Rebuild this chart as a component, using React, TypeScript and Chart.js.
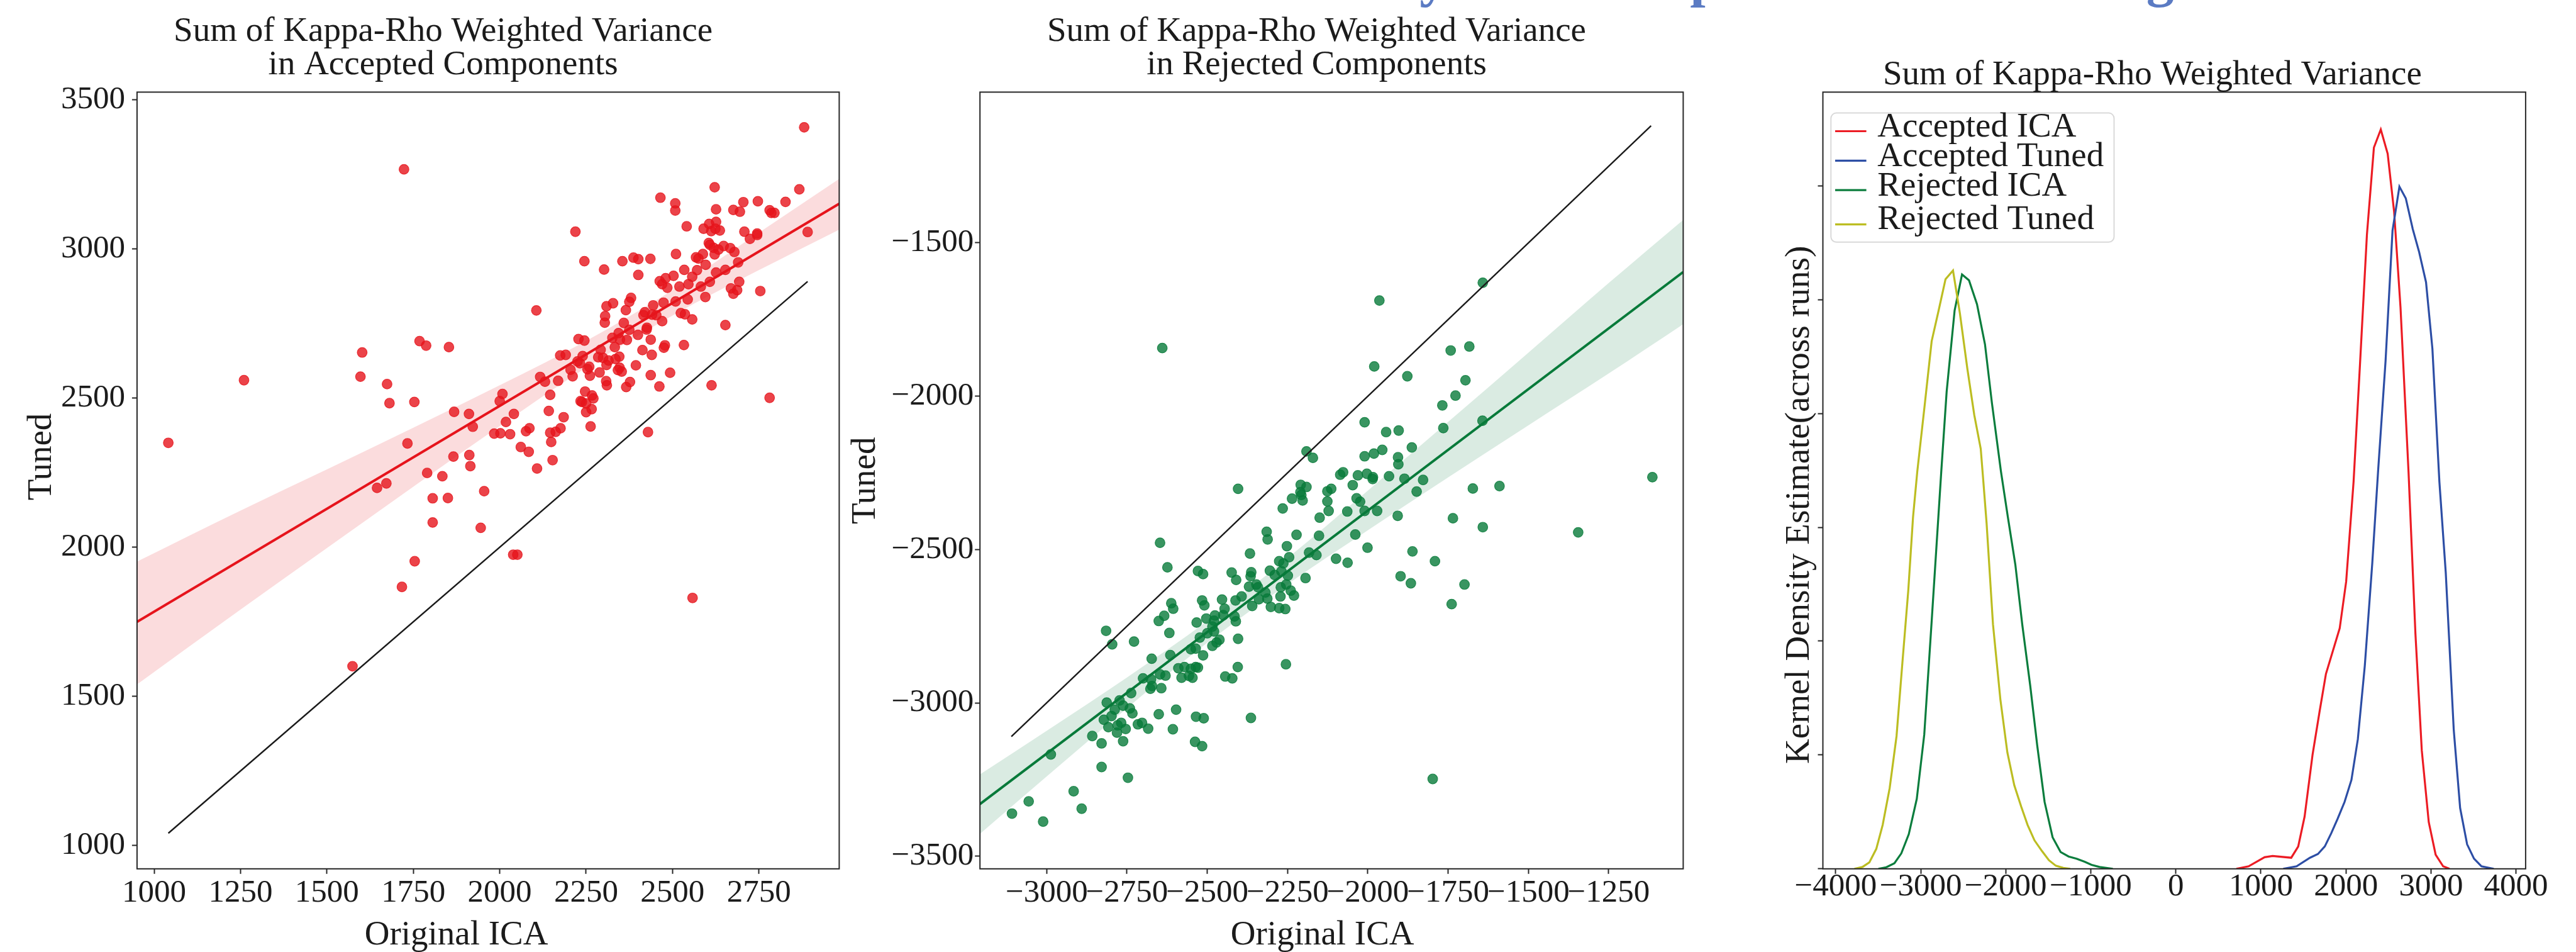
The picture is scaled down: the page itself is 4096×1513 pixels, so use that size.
import React, { useEffect, useRef } from 'react';
import { Chart, registerables } from 'chart.js';

Chart.register(...registerables);

const PAGE_W = 4096;
const PAGE_H = 1513;
const FONT = "'Liberation Serif', 'Times New Roman', serif";
const INK = '#1b1b1b';
const SPINE = '#262626';
const AREA_TOP = 146.4;
const AREA_BOTTOM = 1380.8;
const TICK_FONT = 51;
const TEXT_FONT = 55;

const TITLE_LINE_1 = 'Sum of Kappa-Rho Weighted Variance';
const SUPTITLE = 'Variance Shifts by ICA Component After Tuning';

// ---------- Accepted components: original ICA (x) vs tuned (y) ----------
const acceptedOriginal = [
  1041, 1260, 1602, 1597, 1768, 1787, 1853, 1674, 1681, 1753,
  1733, 1868, 1911, 1922, 1645, 1672, 1790, 1834, 1866, 1912,
  1915, 1806, 1850, 1806, 1945, 1754, 1717, 2039, 2051, 1574,
  1723, 2558, 2881,
  2622, 2867, 2465, 2508, 2508, 2705, 2747, 2827, 2626, 2676,
  2695, 2781, 2786, 2795, 2541, 2590, 2606, 2626, 2612, 2624,
  2637, 2708, 2745, 2745, 2724, 2891, 2219, 2605, 2608, 2619,
  2648, 2633, 2667, 2679, 2622, 2588, 2510, 2568, 2575, 2596,
  2690, 2245, 2355, 2387, 2401, 2436, 2302, 2401, 2534, 2571,
  2626, 2653, 2480, 2503, 2463, 2470, 2485, 2520, 2546, 2557,
  2582, 2608, 2693, 2669, 2687, 2676, 2754, 2595, 2544, 2509,
  2474, 2380, 2375, 2328, 2309, 2365, 2444, 2420, 2416, 2441,
  2453, 2524, 2536, 2557, 2470, 2653, 2106, 2305, 2304, 2359,
  2426, 2425, 2375, 2344, 2326, 2348, 2368, 2400, 2437, 2228,
  2245, 2333, 2478, 2475, 2533, 2413, 2440, 2175, 2191, 2240,
  2292, 2285, 2299, 2346, 2335, 2315, 2225, 2232, 2309, 2259,
  2254, 2205, 2347, 2342, 2353, 2394, 2289, 2261, 2211, 2493,
  2437, 2117, 2131, 2169, 2308, 2310, 2377, 2366, 2462, 2613,
  2008, 2000, 2146, 2247, 2267, 2271, 2234, 2238, 2250, 2266,
  2250, 2781, 2041, 2018, 2142, 2185, 2263, 1984, 2002, 2030,
  2076, 2086, 2146, 2162, 2176, 2149, 2061, 2084, 2153, 2108,
  2429, 1955,
];
const acceptedTuned = [
  2350, 2560, 2653, 2572, 2691, 2676, 2671, 2547, 2483, 2487,
  2348, 2454, 2447, 2404, 2199, 2214, 2249, 2238, 2304, 2309,
  2272, 2164, 2165, 2083, 2065, 1953, 1867, 1975, 1975, 1601,
  3267, 1830, 3408,
  3207, 3200, 3172, 3153, 3129, 3157, 3160, 3158, 3133, 3131,
  3125, 3130, 3121, 3121, 3076, 3068, 3084, 3091, 3060, 3068,
  3062, 3058, 3052, 3047, 3034, 3057, 3058, 3020, 3014, 3004,
  3010, 2998, 3003, 2990, 2982, 2983, 2983, 2972, 2968, 2947,
  2955, 2959, 2959, 2971, 2966, 2967, 2931, 2913, 2930, 2929,
  2921, 2930, 2902, 2910, 2892, 2882, 2870, 2874, 2882, 2907,
  2874, 2890, 2890, 2868, 2862, 2850, 2859, 2839, 2831, 2824,
  2820, 2836, 2823, 2818, 2808, 2795, 2811, 2788, 2778, 2780,
  2778, 2785, 2781, 2764, 2758, 2745, 2794, 2775, 2753, 2752,
  2736, 2730, 2729, 2718, 2702, 2696, 2695, 2712, 2696, 2698,
  2693, 2671, 2677, 2669, 2678, 2661, 2645, 2643, 2645, 2641,
  2662, 2637, 2635, 2639, 2631, 2626, 2623, 2617, 2611, 2605,
  2597, 2595, 2602, 2594, 2589, 2610, 2586, 2575, 2573, 2585,
  2577, 2571, 2555, 2558, 2557, 2543, 2554, 2537, 2539, 2543,
  2514, 2490, 2511, 2522, 2509, 2499, 2490, 2487, 2482, 2463,
  2453, 2501, 2447, 2420, 2457, 2436, 2405, 2381, 2382, 2379,
  2389, 2399, 2384, 2387, 2399, 2353, 2336, 2320, 2292, 2264,
  2386, 2188,
];
const acceptedXRange = [950.5, 2982.4];
const acceptedYRange = [921.7, 3526];
const acceptedXTicks = [1000, 1250, 1500, 1750, 2000, 2250, 2500, 2750];
const acceptedYTicks = [1000, 1500, 2000, 2500, 3000, 3500];
const acceptedIdentity = [1041, 2891];
const acceptedFitX = [950.5, 2982.4];
const acceptedFitY = [1750, 3152];
const acceptedBandX = [950.5, 1250, 1500, 1750, 2000, 2250, 2500, 2750, 2982.4];
const acceptedBandHigh = [1952, 2123, 2261, 2401, 2543, 2692, 2862, 3055, 3235];
const acceptedBandLow = [1540, 1791, 1997, 2203, 2406, 2602, 2777, 2929, 3065];

// ---------- Rejected components: original ICA (x) vs tuned (y) ----------
const rejectedOriginal = [
  -1877, -1696, -1727, -1768, -2010, -1643, -1765, -1943, -1904, -1863,
  -2191, -2171, -2010, -1981, -1955, -1906, -1905, -2086, -2077, -2031,
  -2003, -1984, -1985, -1934, -1886, -1828, -2404, -2209, -2191, -2210,
  -2207, -2203, -2236, -2265, -2126, -2114, -2047, -1848, -1673, -2126,
  -2122, -2035, -2024, -2064, -2010, -1971, -2150, -1907, -1735, -1642,
  -2315, -2312, -2222, -2152, -2039, -2001, -2252, -2647, -2367, -1861,
  -1791, -2624, -2276, -2245, -2263, -2183, -2160, -2099, -2063, -2529,
  -2513, -2424, -2410, -2363, -2365, -2305, -2290, -2269, -2249, -2194,
  -1898, -1866, -1699, -2370, -2347, -2342, -2271, -2254, -2240, -2230,
  -2272, -2319, -2313, -2339, -2393, -2412, -2454, -2516, -2509, -2360,
  -2302, -2276, -2257, -2612, -2606, -1739, -2446, -2450, -2476, -2503,
  -2479, -2415, -2411, -2634, -2651, -2533, -2484, -2479, -2815, -2618,
  -2523, -2500, -2404, -2462, -2471, -2484, -2796, -2728, -2536, -2551,
  -2513, -2615, -2673, -2647, -2630, -2590, -2571, -2551, -2536, -2529,
  -2580, -2557, -2546, -2405, -2255, -2444, -2422, -2700, -2675, -2672,
  -2677, -2643, -2737, -2813, -2773, -2762, -2788, -2741, -2733, -2798,
  -2822, -2768, -2779, -2808, -2754, -2781, -2716, -2703, -2684, -2651,
  -2597, -2607, -2535, -2511, -2364, -2858, -2829, -2762, -2538, -2516,
  -2829, -2747, -2916, -1798, -1642, -1964, -2640, -1742, -1684, -1980,
  -1590, -1345, -1114, -3108, -3056, -3011, -2891, -2987,
];
const rejectedTuned = [
  -1935, -1948, -1998, -2030, -2085, -2080, -2104, -2117, -2112, -2167,
  -2180, -2201, -2196, -2187, -2175, -2199, -2222, -2256, -2248, -2258,
  -2253, -2264, -2270, -2261, -2269, -2273, -2302, -2289, -2296, -2313,
  -2322, -2340, -2334, -2366, -2310, -2302, -2290, -2311, -2301, -2343,
  -2374, -2333, -2344, -2376, -2374, -2374, -2396, -2390, -2398, -2427,
  -2442, -2467, -2452, -2455, -2451, -2494, -2489, -2478, -2513, -2506,
  -2538, -2558, -2538, -2525, -2545, -2510, -2518, -2530, -2543, -2570,
  -2580, -2575, -2599, -2574, -2587, -2569, -2583, -2571, -2585, -2593,
  -2587, -2610, -2614, -2621, -2614, -2623, -2623, -2614, -2634, -2650,
  -2653, -2640, -2660, -2662, -2653, -2666, -2663, -2666, -2682, -2684,
  -2687, -2691, -2694, -2675, -2693, -2678, -2693, -2714, -2715, -2725,
  -2732, -2718, -2734, -2716, -2733, -2738, -2751, -2767, -2765, -2772,
  -2787, -2773, -2791, -2794, -2803, -2814, -2809, -2800, -2823, -2825,
  -2845, -2844, -2856, -2907, -2911, -2887, -2883, -2889, -2883, -2885,
  -2918, -2912, -2918, -2883, -2874, -2914, -2920, -2920, -2923, -2945,
  -2954, -2952, -2968, -2999, -2992, -3009, -3022, -3018, -3034, -3043,
  -3055, -3065, -3073, -3079, -3085, -3097, -3070, -3065, -3084, -3037,
  -3022, -3086, -3045, -3050, -3049, -3108, -3132, -3125, -3127, -3141,
  -3209, -3244, -3288, -3248, -1630, -1688, -1843, -1851, -1838, -1903,
  -2293, -2444, -2264, -3361, -3321, -3387, -3345, -3168,
];
const rejectedXRange = [-3207.7, -1018];
const rejectedYRange = [-3541, -1008.5];
const rejectedXTicks = [-3000, -2750, -2500, -2250, -2000, -1750, -1500, -1250];
const rejectedYTicks = [-3500, -3000, -2500, -2000, -1500];
const rejectedIdentity = [-3110, -1118];
const rejectedFitX = [-3207.7, -1018];
const rejectedFitY = [-3330, -1595];
const rejectedBandX = [-3207.7, -3000, -2750, -2500, -2250, -2000, -1750, -1500, -1250, -1018];
const rejectedBandHigh = [-3233, -3091, -2917, -2733, -2528, -2308, -2084, -1858, -1631, -1425];
const rejectedBandLow = [-3427, -3240, -3017, -2804, -2613, -2437, -2265, -2095, -1926, -1765];

// ---------- Kernel density estimates across runs ----------
const kdeLabels = ['Accepted ICA', 'Accepted Tuned', 'Rejected ICA', 'Rejected Tuned'];
const kdeColors = ['#ec1c24', '#2d4ea5', '#0b7d3d', '#bcbd22'];
const kdeAcceptedIcaX = [
  712, 856, 1044, 1138, 1357, 1439, 1514, 1608, 1690, 1765, 1927, 2003, 2090, 2166,
  2247, 2329, 2410, 2491, 2567, 2642, 2736, 2817, 2892, 2974, 3055, 3143, 3218,
];
const kdeAcceptedIcaY = [
  0, 0.0000055, 0.0000255, 0.0000283, 0.0000243, 0.000049, 0.0001145, 0.000251, 0.0003453,
  0.000428, 0.0005283, 0.000631, 0.00085, 0.00111, 0.001393, 0.001584, 0.0016238, 0.0015705,
  0.0014425, 0.0012325, 0.0008725, 0.0005175, 0.00026, 0.0001025, 0.000031, 0.0000055, 0,
];
const kdeAcceptedTunedX = [
  1263, 1420, 1577, 1671, 1752, 1827, 1902, 1984, 2065, 2140, 2222, 2310, 2378, 2466, 2548,
  2629, 2704, 2786, 2861, 2942, 3017, 3099, 3174, 3268, 3343, 3425, 3506, 3594, 3738,
];
const kdeAcceptedTunedY = [
  0, 0.0000055, 0.0000243, 0.0000325, 0.0000493, 0.000078, 0.0001098, 0.0001468, 0.0001953,
  0.0002845, 0.000446, 0.0006715, 0.0008725, 0.001115, 0.0014018, 0.0014983, 0.0014725,
  0.001405, 0.0013545, 0.0012883, 0.001142, 0.00085, 0.00065, 0.0003048, 0.0001333,
  0.0000538, 0.0000223, 0.0000055, 0,
];
const kdeRejectedIcaX = [
  -3497, -3403, -3309, -3228, -3140, -3046, -2958, -2871, -2758, -2695, -2601, -2514, -2432,
  -2338, -2244, -2163, -2056, -1975, -1887, -1806, -1712, -1630, -1543, -1449, -1355, -1261,
  -1167, -1073, -991, -897, -741,
];
const kdeRejectedIcaY = [
  0, 0.0000035, 0.0000123, 0.0000338, 0.000076, 0.0001535, 0.0002948, 0.0005438, 0.0008725,
  0.0010475, 0.0012263, 0.0013053, 0.0012925, 0.00124, 0.001152, 0.0010238, 0.0008725,
  0.0007725, 0.000668, 0.000537, 0.0004023, 0.0002713, 0.0001468, 0.0000693, 0.000037,
  0.000027, 0.0000223, 0.0000155, 0.0000088, 0.000004, 0,
];
const kdeRejectedTunedX = [
  -3779, -3685, -3604, -3522, -3447, -3365, -3284, -3215, -3146, -3090, -3040, -2952, -2871,
  -2789, -2708, -2620, -2539, -2451, -2370, -2294, -2263, -2225, -2150, -2063, -1981, -1900,
  -1818, -1743, -1662, -1574, -1492, -1411, -1323, -1242,
];
const kdeRejectedTunedY = [
  0, 0.000004, 0.000014, 0.0000438, 0.0000963, 0.000177, 0.0002913, 0.0004528, 0.000611,
  0.0007725, 0.0008725, 0.00102, 0.0011588, 0.0012263, 0.001295, 0.001314, 0.00122, 0.001098,
  0.0009968, 0.0009225, 0.00085, 0.0007588, 0.000537, 0.000372, 0.0002558, 0.0001838,
  0.0001365, 0.0000963, 0.0000625, 0.000039, 0.0000188, 0.0000068, 0.000002, 0,
];
const kdeXRange = [-4150, 4113];
const kdeYRange = [0, 0.0017058];
const kdeXTicks = [-4000, -3000, -2000, -1000, 0, 1000, 2000, 3000, 4000];
const kdeYTicks = [0, 0.00025, 0.0005, 0.00075, 0.001, 0.00125, 0.0015];

// ---------- helpers ----------
const pts = (xs: number[], ys: number[]) => xs.map((x, i) => ({ x, y: ys[i] }));
const fmtTick = (v: number) => (v < 0 ? '\u2212' + Math.abs(v) : String(v));

function gridOpts() {
  return {
    display: true,
    drawOnChartArea: false,
    drawTicks: true,
    tickLength: 8,
    tickWidth: 2,
    tickColor: SPINE,
  };
}

function xScale(range: number[], ticks: number[], padding: number) {
  return {
    type: 'linear',
    position: 'bottom',
    min: range[0],
    max: range[1],
    afterBuildTicks: (s: any) => {
      s.ticks = ticks.map((v) => ({ value: v }));
    },
    afterFit: (s: any) => {
      s.height = PAGE_H - AREA_BOTTOM;
    },
    grid: gridOpts(),
    border: { display: false },
    ticks: {
      autoSkip: false,
      maxRotation: 0,
      minRotation: 0,
      padding,
      color: INK,
      font: { family: FONT, size: TICK_FONT },
      callback: (v: number) => fmtTick(v),
    },
  };
}

function yScale(range: number[], ticks: number[], width: number, padding: number, labels = true) {
  return {
    type: 'linear',
    position: 'left',
    min: range[0],
    max: range[1],
    afterBuildTicks: (s: any) => {
      s.ticks = ticks.map((v) => ({ value: v }));
    },
    afterFit: (s: any) => {
      s.width = width;
    },
    grid: gridOpts(),
    border: { display: false },
    ticks: {
      autoSkip: false,
      padding,
      color: INK,
      font: { family: FONT, size: TICK_FONT },
      callback: (v: number) => (labels ? fmtTick(v) : ''),
    },
  };
}

type Label = { text: string; x: number; y: number };
type Decor = {
  canvasLeft: number;
  titles: Label[];
  xTitle?: Label;
  yTitle: Label;
  legend?: boolean;
};

function drawSuptitle(ctx: CanvasRenderingContext2D, canvasLeft: number) {
  ctx.save();
  ctx.font = `bold 88px ${FONT}`;
  ctx.fillStyle = '#5b7bc3';
  ctx.textAlign = 'left';
  ctx.textBaseline = 'alphabetic';
  ctx.fillText(SUPTITLE, 1615 - canvasLeft, -7);
  ctx.restore();
}

function drawLegend(ctx: CanvasRenderingContext2D, canvasLeft: number) {
  const bx = 2911.3 - canvasLeft;
  const by = 179.6;
  const bw = 450.2;
  const bh = 205.1;
  const r = 8.5;
  ctx.save();
  ctx.beginPath();
  ctx.moveTo(bx + r, by);
  ctx.lineTo(bx + bw - r, by);
  ctx.arcTo(bx + bw, by, bx + bw, by + r, r);
  ctx.lineTo(bx + bw, by + bh - r);
  ctx.arcTo(bx + bw, by + bh, bx + bw - r, by + bh, r);
  ctx.lineTo(bx + r, by + bh);
  ctx.arcTo(bx, by + bh, bx, by + bh - r, r);
  ctx.lineTo(bx, by + r);
  ctx.arcTo(bx, by, bx + r, by, r);
  ctx.closePath();
  ctx.fillStyle = 'rgba(255,255,255,0.8)';
  ctx.fill();
  ctx.strokeStyle = '#d9d9d9';
  ctx.lineWidth = 2;
  ctx.stroke();

  const handleY = [208.5, 255.3, 302.1, 356.6];
  const textY = [217, 263.8, 310.6, 364.2];
  ctx.font = `${TEXT_FONT}px ${FONT}`;
  ctx.textAlign = 'left';
  ctx.textBaseline = 'alphabetic';
  kdeLabels.forEach((label, i) => {
    ctx.strokeStyle = kdeColors[i];
    ctx.lineWidth = 3.2;
    ctx.beginPath();
    ctx.moveTo(2918 - canvasLeft, handleY[i]);
    ctx.lineTo(2967.6 - canvasLeft, handleY[i]);
    ctx.stroke();
    ctx.fillStyle = INK;
    ctx.fillText(label, 2985.3 - canvasLeft, textY[i]);
  });
  ctx.restore();
}

function decorPlugin(d: Decor) {
  return {
    id: 'panelDecor',
    afterDraw(chart: any) {
      const ctx: CanvasRenderingContext2D = chart.ctx;
      const a = chart.chartArea;
      ctx.save();
      ctx.strokeStyle = SPINE;
      ctx.lineWidth = 2;
      ctx.strokeRect(a.left, a.top, a.right - a.left, a.bottom - a.top);

      ctx.fillStyle = INK;
      ctx.font = `${TEXT_FONT}px ${FONT}`;
      ctx.textAlign = 'center';
      ctx.textBaseline = 'alphabetic';
      d.titles.forEach((t) => ctx.fillText(t.text, t.x - d.canvasLeft, t.y));
      if (d.xTitle) ctx.fillText(d.xTitle.text, d.xTitle.x - d.canvasLeft, d.xTitle.y);
      ctx.save();
      ctx.translate(d.yTitle.x - d.canvasLeft, d.yTitle.y);
      ctx.rotate(-Math.PI / 2);
      ctx.fillText(d.yTitle.text, 0, 0);
      ctx.restore();
      if (d.legend) drawLegend(ctx, d.canvasLeft);
      ctx.restore();
      drawSuptitle(ctx, d.canvasLeft);
    },
  };
}

function baseOptions(padRight: number) {
  return {
    responsive: false,
    maintainAspectRatio: false,
    devicePixelRatio: 1,
    animation: false,
    events: [],
    layout: { autoPadding: false, padding: { left: 0, top: AREA_TOP, right: padRight, bottom: 0 } },
    plugins: {
      legend: { display: false },
      tooltip: { enabled: false },
      title: { display: false },
    },
  };
}

type RegSpec = {
  orig: number[];
  tuned: number[];
  identity: number[];
  fitX: number[];
  fitY: number[];
  bandX: number[];
  bandHigh: number[];
  bandLow: number[];
  rgb: number[];
};

function regressionDatasets(s: RegSpec) {
  const [r, g, b] = s.rgb;
  const rgba = (a: number) => `rgba(${r},${g},${b},${a})`;
  const none = 'rgba(0,0,0,0)';
  return [
    {
      type: 'line',
      data: pts(s.identity, s.identity),
      borderColor: '#1a1a1a',
      borderWidth: 2.4,
      pointRadius: 0,
      fill: false,
      order: 0,
    },
    {
      type: 'line',
      data: pts(s.fitX, s.fitY),
      borderColor: rgba(1),
      borderWidth: 4,
      pointRadius: 0,
      fill: false,
      order: 1,
    },
    {
      type: 'line',
      data: pts(s.bandX, s.bandHigh),
      borderColor: none,
      borderWidth: 0,
      pointRadius: 0,
      cubicInterpolationMode: 'monotone',
      fill: '+1',
      backgroundColor: rgba(0.15),
      order: 2,
    },
    {
      type: 'line',
      data: pts(s.bandX, s.bandLow),
      borderColor: none,
      borderWidth: 0,
      pointRadius: 0,
      cubicInterpolationMode: 'monotone',
      fill: false,
      order: 3,
    },
    {
      type: 'scatter',
      data: pts(s.orig, s.tuned),
      pointRadius: 7.8,
      pointHoverRadius: 7.8,
      pointBackgroundColor: rgba(0.8),
      pointBorderColor: rgba(0.8),
      pointBorderWidth: 1.2,
      order: 4,
    },
  ];
}

const PANELS = [
  {
    left: 0,
    width: 1345,
    build: () => ({
      type: 'scatter',
      data: {
        datasets: regressionDatasets({
          orig: acceptedOriginal,
          tuned: acceptedTuned,
          identity: acceptedIdentity,
          fitX: acceptedFitX,
          fitY: acceptedFitY,
          bandX: acceptedBandX,
          bandHigh: acceptedBandHigh,
          bandLow: acceptedBandLow,
          rgb: [230, 20, 28],
        }),
      },
      options: {
        ...baseOptions(10.6),
        scales: {
          x: xScale(acceptedXRange, acceptedXTicks, 0),
          y: yScale(acceptedYRange, acceptedYTicks, 217.9, 11),
        },
      },
      plugins: [
        decorPlugin({
          canvasLeft: 0,
          titles: [
            { text: TITLE_LINE_1, x: 704.6, y: 64.7 },
            { text: 'in Accepted Components', x: 704.6, y: 118 },
          ],
          xTitle: { text: 'Original ICA', x: 725.6, y: 1501 },
          yTitle: { text: 'Tuned', x: 80.6, y: 726 },
        }),
      ],
    }),
  },
  {
    left: 1345,
    width: 1435,
    build: () => ({
      type: 'scatter',
      data: {
        datasets: regressionDatasets({
          orig: rejectedOriginal,
          tuned: rejectedTuned,
          identity: rejectedIdentity,
          fitX: rejectedFitX,
          fitY: rejectedFitY,
          bandX: rejectedBandX,
          bandHigh: rejectedBandHigh,
          bandLow: rejectedBandLow,
          rgb: [8, 122, 58],
        }),
      },
      options: {
        ...baseOptions(103.6),
        scales: {
          x: xScale(rejectedXRange, rejectedXTicks, 0),
          y: yScale(rejectedYRange, rejectedYTicks, 213.2, 2),
        },
      },
      plugins: [
        decorPlugin({
          canvasLeft: 1345,
          titles: [
            { text: TITLE_LINE_1, x: 2093.5, y: 64.7 },
            { text: 'in Rejected Components', x: 2093.5, y: 118 },
          ],
          xTitle: { text: 'Original ICA', x: 2102.7, y: 1501 },
          yTitle: { text: 'Tuned', x: 1391, y: 763.8 },
        }),
      ],
    }),
  },
  {
    left: 2780,
    width: 1316,
    build: () => ({
      type: 'line',
      data: {
        datasets: [
          [kdeAcceptedIcaX, kdeAcceptedIcaY],
          [kdeAcceptedTunedX, kdeAcceptedTunedY],
          [kdeRejectedIcaX, kdeRejectedIcaY],
          [kdeRejectedTunedX, kdeRejectedTunedY],
        ].map(([xs, ys], i) => ({
          label: kdeLabels[i],
          data: pts(xs, ys),
          borderColor: kdeColors[i],
          borderWidth: 3.2,
          pointRadius: 0,
          tension: 0,
          fill: false,
          order: 3 - i,
        })),
      },
      options: {
        ...baseOptions(80.1),
        scales: {
          x: xScale(kdeXRange, kdeXTicks, -10),
          y: yScale(kdeYRange, kdeYTicks, 118.5, 2, false),
        },
      },
      plugins: [
        decorPlugin({
          canvasLeft: 2780,
          titles: [{ text: TITLE_LINE_1, x: 3422.4, y: 134.3 }],
          yTitle: { text: 'Kernel Density Estimate(across runs)', x: 2876, y: 802.3 },
          legend: true,
        }),
      ],
    }),
  },
];

function Panel({ left, width, build }: { left: number; width: number; build: () => any }) {
  const ref = useRef<HTMLCanvasElement>(null);
  useEffect(() => {
    const chart = new Chart(ref.current as HTMLCanvasElement, build());
    return () => chart.destroy();
  }, []);
  return (
    <canvas
      ref={ref}
      width={width}
      height={PAGE_H}
      style={{ position: 'absolute', left, top: 0, width, height: PAGE_H, display: 'block' }}
    />
  );
}

export default function App() {
  return (
    <div
      style={{
        position: 'fixed',
        left: 0,
        top: 0,
        width: PAGE_W,
        height: PAGE_H,
        background: '#ffffff',
        overflow: 'hidden',
      }}
    >
      {PANELS.map((p, i) => (
        <Panel key={i} left={p.left} width={p.width} build={p.build} />
      ))}
    </div>
  );
}
